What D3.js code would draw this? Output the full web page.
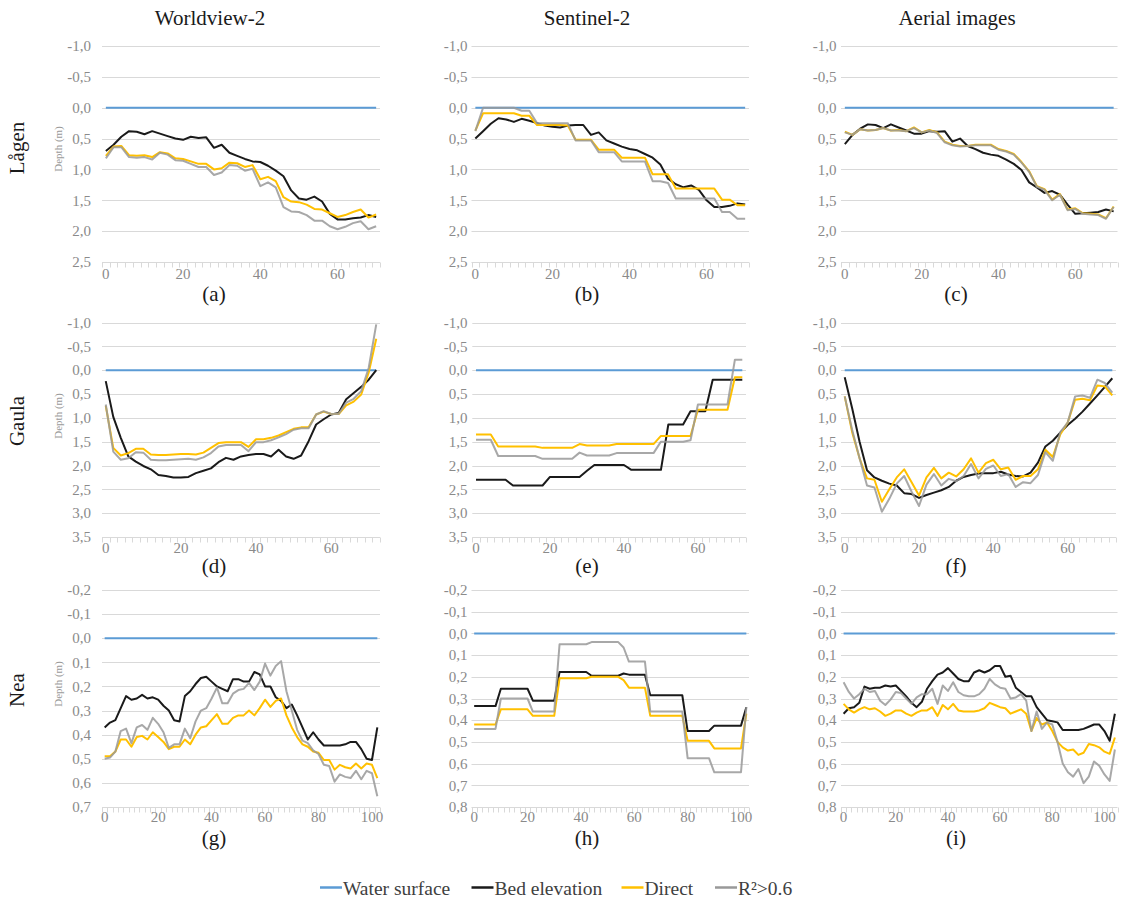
<!DOCTYPE html>
<html>
<head>
<meta charset="utf-8">
<script src="https://cdn.jsdelivr.net/npm/d3@7"></script>
<style>
  body { margin: 0; background: #fff; }
  svg { display: block; }
</style>
</head>
<body>
<svg id="chart" width="1129" height="899" font-family="'Liberation Serif', 'DejaVu Serif', serif" style="font-family: 'Liberation Serif', 'DejaVu Serif', serif;"></svg>
<script>
// ---- Labels ----
const sensors = ["Worldview-2", "Sentinel-2", "Aerial images"];
const rivers = ["Lågen", "Gaula", "Nea"];
const panelLetters = ["(a)", "(b)", "(c)", "(d)", "(e)", "(f)", "(g)", "(h)", "(i)"];
const seriesNames = ["Water surface", "Bed elevation", "Direct", "R²>0.6"];
const depthTitle = "Depth (m)";

// ---- Cross-section stations (m along the profile) ----
const stationsLagen = [0,2,4,6,8,10,12,14,16,18,20,22,24,26,28,30,32,34,36,38,40,42,44,46,48,50,52,54,56,58,60,62,64,66,68,70];
const stationsGaula = [0,2,4,6,8,10,12,14,16,18,20,22,24,26,28,30,32,34,36,38,40,42,44,46,48,50,52,54,56,58,60,62,64,66,68,70,72];
const stationsNea = [0,2,4,6,8,10,12,14,16,18,20,22,24,26,28,30,32,34,36,38,40,42,44,46,48,50,52,54,56,58,60,62,64,66,68,70,72,74,76,78,80,82,84,86,88,90,92,94,96,98,100,102];
const stationsNeaAerial = [0,2,4,6,8,10,12,14,16,18,20,22,24,26,28,30,32,34,36,38,40,42,44,46,48,50,52,54,56,58,60,62,64,66,68,70,72,74,76,78,80,82,84,86,88,90,92,94,96,98,100,102,104];

// Tick labels of the station axis
const xTicksShort = [0, 20, 40, 60];
const xTicksLong = [0, 20, 40, 60, 80, 100];

// Depth axis ticks (positive = below water surface)
const yTicksLagen = [-1, -0.5, 0, 0.5, 1, 1.5, 2, 2.5];
const yTicksGaula = [-1, -0.5, 0, 0.5, 1, 1.5, 2, 2.5, 3, 3.5];
const yTicksNeaWV = [-0.2, -0.1, 0, 0.1, 0.2, 0.3, 0.4, 0.5, 0.6, 0.7];
const yTicksNea = [-0.2, -0.1, 0, 0.1, 0.2, 0.3, 0.4, 0.5, 0.6, 0.7, 0.8];

const waterLevel = 0;

// ---- Lågen ----
const bedA = [0.70,0.60,0.47,0.38,0.39,0.43,0.38,0.42,0.46,0.50,0.52,0.47,0.49,0.48,0.65,0.60,0.73,0.78,0.83,0.87,0.88,0.94,1.02,1.11,1.34,1.47,1.49,1.44,1.52,1.72,1.81,1.81,1.79,1.78,1.74,1.77];
const directA = [0.78,0.63,0.62,0.77,0.78,0.77,0.80,0.72,0.74,0.82,0.83,0.87,0.91,0.91,1.00,0.98,0.89,0.90,0.96,0.93,1.16,1.12,1.19,1.45,1.52,1.53,1.57,1.64,1.65,1.71,1.77,1.74,1.69,1.65,1.78,1.73];
const r2A = [0.82,0.64,0.64,0.80,0.81,0.80,0.84,0.73,0.76,0.85,0.86,0.91,0.96,0.96,1.09,1.05,0.93,0.94,1.02,0.99,1.27,1.21,1.29,1.61,1.68,1.69,1.74,1.83,1.83,1.92,1.97,1.93,1.87,1.84,1.97,1.92];

const bedB = [0.50,0.38,0.26,0.17,0.19,0.23,0.18,0.21,0.25,0.29,0.31,0.32,0.29,0.28,0.28,0.44,0.40,0.53,0.58,0.63,0.67,0.69,0.75,0.81,0.92,1.15,1.24,1.29,1.26,1.33,1.50,1.61,1.61,1.59,1.55,1.57];
const directB = [0.37,0.09,0.09,0.09,0.09,0.09,0.13,0.13,0.28,0.28,0.28,0.28,0.29,0.52,0.52,0.52,0.68,0.68,0.68,0.81,0.81,0.81,0.81,1.08,1.08,1.08,1.31,1.31,1.31,1.31,1.31,1.31,1.49,1.49,1.58,1.58];
const r2B = [0.38,0.00,0.00,0.00,0.00,0.00,0.05,0.05,0.25,0.25,0.25,0.25,0.25,0.53,0.53,0.53,0.72,0.72,0.72,0.87,0.87,0.87,0.87,1.19,1.19,1.22,1.47,1.47,1.47,1.47,1.47,1.47,1.69,1.69,1.80,1.80];

const bedC = [0.59,0.44,0.34,0.27,0.28,0.33,0.27,0.32,0.37,0.42,0.42,0.38,0.39,0.38,0.55,0.50,0.62,0.67,0.73,0.76,0.78,0.84,0.91,1.01,1.21,1.29,1.38,1.35,1.41,1.57,1.72,1.71,1.70,1.69,1.65,1.68];
const directC = [0.39,0.44,0.35,0.37,0.36,0.33,0.37,0.36,0.38,0.32,0.40,0.36,0.40,0.55,0.60,0.62,0.62,0.60,0.60,0.60,0.67,0.70,0.75,0.88,1.03,1.27,1.32,1.49,1.40,1.65,1.63,1.71,1.72,1.73,1.79,1.60];
const r2C = [0.40,0.44,0.35,0.37,0.36,0.33,0.37,0.37,0.38,0.33,0.40,0.37,0.41,0.56,0.61,0.63,0.62,0.61,0.61,0.61,0.68,0.71,0.76,0.89,1.04,1.28,1.33,1.50,1.41,1.66,1.64,1.72,1.73,1.74,1.80,1.61];

// ---- Gaula ----
const bedD = [0.23,0.98,1.42,1.81,1.92,2.01,2.08,2.20,2.22,2.25,2.25,2.24,2.16,2.11,2.06,1.93,1.84,1.88,1.81,1.78,1.76,1.76,1.81,1.67,1.81,1.86,1.79,1.49,1.14,1.03,0.93,0.90,0.61,0.48,0.35,0.20,0.00];
const directD = [0.75,1.63,1.79,1.74,1.65,1.65,1.77,1.78,1.78,1.77,1.76,1.76,1.77,1.73,1.63,1.53,1.51,1.51,1.51,1.61,1.45,1.45,1.42,1.37,1.30,1.23,1.20,1.20,0.93,0.87,0.92,0.92,0.74,0.66,0.51,0.05,-0.66];
const r2D = [0.72,1.71,1.88,1.85,1.72,1.73,1.88,1.89,1.89,1.88,1.87,1.86,1.88,1.83,1.74,1.60,1.57,1.57,1.57,1.70,1.51,1.51,1.47,1.41,1.34,1.25,1.22,1.22,0.93,0.86,0.92,0.92,0.68,0.60,0.44,-0.05,-0.96];

const bedE = [2.30,2.30,2.30,2.30,2.30,2.42,2.42,2.42,2.42,2.42,2.24,2.24,2.24,2.24,2.24,2.11,1.99,1.99,1.99,1.99,1.99,2.09,2.09,2.09,2.09,2.09,1.14,1.14,1.14,0.86,0.86,0.86,0.20,0.20,0.20,0.20,0.20];
const directE = [1.35,1.35,1.35,1.60,1.60,1.60,1.60,1.60,1.60,1.63,1.63,1.63,1.63,1.63,1.55,1.58,1.58,1.58,1.58,1.55,1.55,1.55,1.55,1.55,1.55,1.38,1.38,1.38,1.38,1.38,0.83,0.83,0.83,0.83,0.83,0.15,0.15];
const r2E = [1.46,1.46,1.46,1.80,1.80,1.80,1.80,1.80,1.80,1.86,1.86,1.86,1.86,1.86,1.73,1.79,1.79,1.79,1.79,1.74,1.74,1.74,1.74,1.74,1.74,1.50,1.50,1.50,1.50,1.47,0.72,0.72,0.72,0.72,0.72,-0.22,-0.22];

const bedF = [0.15,0.80,1.50,2.10,2.25,2.32,2.38,2.42,2.58,2.60,2.68,2.62,2.57,2.52,2.45,2.32,2.24,2.20,2.17,2.16,2.16,2.13,2.19,2.22,2.23,2.15,1.94,1.60,1.48,1.31,1.15,1.02,0.87,0.70,0.53,0.35,0.17];
const directF = [0.55,1.30,1.85,2.27,2.30,2.76,2.50,2.25,2.08,2.35,2.63,2.25,2.05,2.27,2.15,2.23,2.08,1.85,2.15,1.95,1.88,2.08,2.04,2.30,2.22,2.22,2.08,1.67,1.82,1.35,1.10,0.62,0.60,0.63,0.32,0.34,0.53];
const r2F = [0.55,1.25,1.85,2.42,2.46,2.97,2.70,2.38,2.22,2.55,2.85,2.40,2.18,2.42,2.28,2.33,2.22,1.97,2.27,2.07,2.00,2.22,2.18,2.45,2.35,2.37,2.20,1.72,1.90,1.30,1.10,0.55,0.53,0.58,0.20,0.27,0.47];

// ---- Nea ----
const bedG = [0.37,0.35,0.34,0.29,0.24,0.255,0.25,0.235,0.25,0.245,0.255,0.28,0.30,0.34,0.345,0.24,0.22,0.19,0.165,0.16,0.18,0.20,0.21,0.22,0.17,0.17,0.18,0.18,0.14,0.15,0.20,0.20,0.245,0.26,0.29,0.275,0.32,0.37,0.42,0.39,0.42,0.445,0.445,0.445,0.445,0.44,0.43,0.43,0.46,0.50,0.505,0.37];
const directG = [0.49,0.49,0.47,0.42,0.42,0.45,0.41,0.405,0.42,0.39,0.41,0.43,0.46,0.45,0.45,0.42,0.44,0.40,0.37,0.365,0.34,0.315,0.355,0.355,0.33,0.32,0.32,0.30,0.32,0.29,0.255,0.285,0.26,0.25,0.32,0.37,0.41,0.44,0.45,0.47,0.475,0.505,0.505,0.545,0.525,0.535,0.54,0.52,0.54,0.52,0.525,0.58];
const r2G = [0.50,0.495,0.47,0.385,0.375,0.435,0.37,0.36,0.38,0.33,0.355,0.39,0.455,0.44,0.44,0.375,0.415,0.345,0.30,0.29,0.25,0.205,0.27,0.27,0.23,0.215,0.21,0.185,0.215,0.18,0.105,0.155,0.115,0.095,0.22,0.30,0.38,0.425,0.435,0.465,0.48,0.525,0.53,0.595,0.565,0.575,0.58,0.55,0.585,0.55,0.56,0.655];

const bedH = [0.335,0.335,0.335,0.335,0.335,0.255,0.255,0.255,0.255,0.255,0.255,0.31,0.31,0.31,0.31,0.31,0.178,0.178,0.178,0.178,0.178,0.178,0.195,0.195,0.195,0.195,0.195,0.195,0.185,0.19,0.19,0.19,0.19,0.285,0.285,0.285,0.285,0.285,0.285,0.285,0.45,0.45,0.45,0.45,0.45,0.425,0.425,0.425,0.425,0.425,0.425,0.34];
const directH = [0.42,0.42,0.42,0.42,0.42,0.35,0.35,0.35,0.35,0.35,0.35,0.38,0.38,0.38,0.38,0.38,0.207,0.207,0.207,0.207,0.207,0.207,0.20,0.20,0.20,0.20,0.20,0.20,0.215,0.25,0.25,0.25,0.25,0.38,0.38,0.38,0.38,0.38,0.38,0.38,0.495,0.495,0.495,0.495,0.495,0.53,0.53,0.53,0.53,0.53,0.53,0.37];
const r2H = [0.44,0.44,0.44,0.44,0.44,0.30,0.30,0.30,0.30,0.30,0.30,0.36,0.36,0.36,0.36,0.36,0.05,0.05,0.05,0.05,0.05,0.05,0.04,0.04,0.04,0.04,0.04,0.04,0.065,0.13,0.13,0.13,0.13,0.36,0.36,0.36,0.36,0.36,0.36,0.36,0.575,0.575,0.575,0.575,0.575,0.64,0.64,0.64,0.64,0.64,0.64,0.34];

const bedI = [0.37,0.345,0.34,0.32,0.245,0.255,0.25,0.25,0.24,0.245,0.24,0.265,0.29,0.32,0.34,0.315,0.255,0.22,0.19,0.18,0.16,0.185,0.21,0.22,0.22,0.18,0.17,0.18,0.17,0.15,0.15,0.20,0.195,0.25,0.27,0.29,0.29,0.34,0.37,0.40,0.405,0.41,0.445,0.445,0.445,0.445,0.44,0.43,0.42,0.42,0.45,0.495,0.37];
const directI = [0.325,0.35,0.365,0.35,0.34,0.35,0.345,0.36,0.38,0.37,0.355,0.355,0.37,0.38,0.365,0.355,0.355,0.34,0.38,0.33,0.35,0.325,0.355,0.36,0.36,0.36,0.355,0.345,0.32,0.33,0.34,0.345,0.37,0.36,0.35,0.37,0.45,0.39,0.42,0.41,0.45,0.50,0.525,0.54,0.535,0.56,0.55,0.51,0.515,0.525,0.545,0.555,0.48];
const r2I = [0.225,0.27,0.30,0.28,0.255,0.27,0.265,0.31,0.33,0.305,0.27,0.275,0.30,0.325,0.295,0.28,0.28,0.255,0.325,0.24,0.265,0.225,0.27,0.285,0.29,0.29,0.28,0.255,0.21,0.235,0.25,0.255,0.30,0.295,0.28,0.31,0.45,0.36,0.44,0.41,0.42,0.50,0.60,0.64,0.66,0.625,0.69,0.66,0.59,0.61,0.65,0.68,0.535];

// ---- Layout ----
const FONT = "'Liberation Serif', 'DejaVu Serif', serif";
const colRanges = [[102, 380], [471.5, 749], [841, 1117.5]];
const rowRanges = [[46, 262], [322.5, 537], [590, 807]];
const colors = { water: "#5B9BD5", bed: "#1a1a1a", direct: "#FFC000", r2: "#999999" };

const panels = [
  { stations: stationsLagen, bed: bedA, direct: directA, r2: r2A, yTicks: yTicksLagen, xTicks: xTicksShort, row: 0, col: 0 },
  { stations: stationsLagen, bed: bedB, direct: directB, r2: r2B, yTicks: yTicksLagen, xTicks: xTicksShort, row: 0, col: 1 },
  { stations: stationsLagen, bed: bedC, direct: directC, r2: r2C, yTicks: yTicksLagen, xTicks: xTicksShort, row: 0, col: 2 },
  { stations: stationsGaula, bed: bedD, direct: directD, r2: r2D, yTicks: yTicksGaula, xTicks: xTicksShort, row: 1, col: 0 },
  { stations: stationsGaula, bed: bedE, direct: directE, r2: r2E, yTicks: yTicksGaula, xTicks: xTicksShort, row: 1, col: 1, xr: [472.3, 746] },
  { stations: stationsGaula, bed: bedF, direct: directF, r2: r2F, yTicks: yTicksGaula, xTicks: xTicksShort, row: 1, col: 2, xr: [841, 1116] },
  { stations: stationsNea, bed: bedG, direct: directG, r2: r2G, yTicks: yTicksNeaWV, xTicks: xTicksLong, row: 2, col: 0 },
  { stations: stationsNea, bed: bedH, direct: directH, r2: r2H, yTicks: yTicksNea, xTicks: xTicksLong, row: 2, col: 1 },
  { stations: stationsNeaAerial, bed: bedI, direct: directI, r2: r2I, yTicks: yTicksNea, xTicks: xTicksLong, row: 2, col: 2 }
];

const svg = d3.select("#chart");
const fmt = v => d3.format(".1f")(v).replace(".", ",").replace("\u2212", "-");
const labelRight = [91, 467.5, 836.5];
const letterX = [214, 587, 956];
const letterBase = [300.5, 572.5, 845];
const xLabelBase = [279, 553, 822];

panels.forEach((p, idx) => {
  const [x0, x1] = p.xr || colRanges[p.col];
  const [yTop, yBot] = rowRanges[p.row];
  const g = svg.append("g");

  const xb = d3.scaleBand().domain(p.stations).range([x0, x1]);
  const xc = d => xb(d) + xb.bandwidth() / 2;
  const y = d3.scaleLinear().domain([p.yTicks[0], p.yTicks[p.yTicks.length - 1]]).range([yTop, yBot]);

  // horizontal gridlines (the last one doubles as the category axis)
  g.selectAll("line.grid").data(p.yTicks).join("line")
    .attr("x1", x0).attr("x2", x1)
    .attr("y1", d => Math.round(y(d)) + 0.5).attr("y2", d => Math.round(y(d)) + 0.5)
    .attr("stroke", "#d9d9d9").attr("stroke-width", 1);

  // category tick marks at band boundaries
  const bounds = p.stations.map(d => xb(d)).concat([x1]);
  const axisY = Math.round(y(p.yTicks[p.yTicks.length - 1])) + 0.5;
  g.selectAll("line.tick").data(bounds).join("line")
    .attr("x1", d => Math.round(d) + 0.5).attr("x2", d => Math.round(d) + 0.5)
    .attr("y1", axisY).attr("y2", axisY + 5)
    .attr("stroke", "#d9d9d9").attr("stroke-width", 1);

  // depth labels
  g.selectAll("text.ylab").data(p.yTicks).join("text")
    .attr("x", labelRight[p.col]).attr("y", d => y(d))
    .attr("dy", "0.35em").attr("text-anchor", "end")
    .attr("font-family", FONT)
    .attr("font-size", 15).attr("fill", "#8a8a8a")
    .text(fmt);

  // station labels
  g.selectAll("text.xlab").data(p.xTicks).join("text")
    .attr("x", d => xc(d)).attr("y", xLabelBase[p.row])
    .attr("text-anchor", "middle")
    .attr("font-family", FONT)
    .attr("font-size", 15).attr("fill", "#8a8a8a")
    .text(d => d);

  const line = d3.line().x((d, i) => xc(p.stations[i])).y(d => y(d));

  // water surface
  g.append("path").datum(p.stations.map(() => waterLevel))
    .attr("d", line).attr("fill", "none")
    .attr("stroke", colors.water).attr("stroke-width", 2);

  const series = [
    { values: p.bed, color: colors.bed, opacity: 1 },
    { values: p.direct, color: colors.direct, opacity: 1 },
    { values: p.r2, color: colors.r2, opacity: 0.85 }
  ];
  series.forEach(s => {
    g.append("path").datum(s.values)
      .attr("d", line).attr("fill", "none")
      .attr("stroke", s.color).attr("stroke-width", 2)
      .attr("stroke-opacity", s.opacity)
      .attr("stroke-linejoin", "round");
  });

  // panel letter
  g.append("text")
    .attr("x", letterX[p.col]).attr("y", letterBase[p.row])
    .attr("text-anchor", "middle")
    .attr("font-family", FONT)
    .attr("font-size", 21).attr("fill", "#1a1a1a")
    .text(panelLetters[idx]);
});

// column titles
svg.selectAll("text.sensor").data(sensors).join("text")
  .attr("x", (d, i) => [210, 587, 957][i]).attr("y", 24.5)
  .attr("text-anchor", "middle")
  .attr("font-family", FONT)
  .attr("font-size", 21).attr("fill", "#1a1a1a")
  .text(d => d);

// row titles and depth captions
const rowCentres = [148, 421, 690];
const depthCentres = [149, 416, 684];
svg.selectAll("text.river").data(rivers).join("text")
  .attr("transform", (d, i) => `translate(24,${rowCentres[i]}) rotate(-90)`)
  .attr("text-anchor", "middle")
  .attr("font-family", FONT)
  .attr("font-size", 21).attr("fill", "#1a1a1a")
  .text(d => d);
svg.selectAll("text.depth").data(depthCentres).join("text")
  .attr("transform", d => `translate(61.5,${d}) rotate(-90)`)
  .attr("text-anchor", "middle")
  .attr("font-family", FONT)
  .attr("font-size", 11).attr("fill", "#9a9a9a")
  .text(depthTitle);

// legend
const legendColors = [colors.water, colors.bed, colors.direct, colors.r2];
const legendX = [320, 471.5, 621.5, 715];
const legend = svg.append("g");
seriesNames.forEach((name, i) => {
  legend.append("line")
    .attr("x1", legendX[i]).attr("x2", legendX[i] + 22)
    .attr("y1", 887.5).attr("y2", 887.5)
    .attr("stroke", legendColors[i]).attr("stroke-width", 2.5);
  legend.append("text")
    .attr("x", legendX[i] + 23).attr("y", 895)
    .attr("font-family", FONT)
    .attr("font-size", 19.5).attr("fill", "#404040")
    .text(name);
});
</script>
</body>
</html>
